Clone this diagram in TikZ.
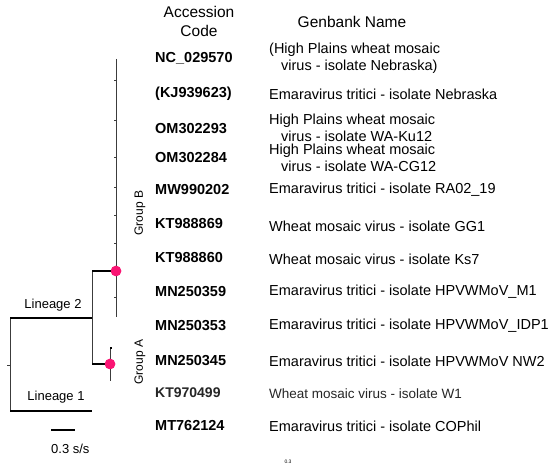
\documentclass[tikz,border=0pt]{standalone}
\usepackage{fontspec}
\setmainfont{Liberation Sans}
\definecolor{dotpink}{RGB}{250,20,115}
\definecolor{branchgray}{RGB}{60,60,60}
\begin{document}
\begin{tikzpicture}[x=1pt,y=-1pt,
  thickbr/.style={line width=2pt,black},
  thinbr/.style={line width=0.8pt,branchgray},
  tickmark/.style={line width=0.6pt,branchgray},
  nodedot/.style={circle,fill=dotpink,inner sep=0pt,minimum size=10.5pt},
  code/.style={anchor=west,inner sep=0pt,font=\fontsize{14.5}{16}\selectfont\bfseries},
  gname/.style={anchor=west,inner sep=0pt,align=left,font=\fontsize{14.5}{16.5}\selectfont},
  header/.style={inner sep=0pt,align=center,font=\fontsize{15.5}{19}\selectfont},
  lablabel/.style={inner sep=0pt,font=\fontsize{13}{15}\selectfont},
  grouplabel/.style={inner sep=0pt,rotate=90,font=\fontsize{12}{14}\selectfont}]
\useasboundingbox (0,0) rectangle (550,476);
% headers
\node[header] (hacc) at (199,21) {Accession\\Code};
\node[header] (hgen) at (352,22) {Genbank Name};
% tree coordinates
\coordinate (root1) at (10,318);
\coordinate (root2) at (10,411);
\coordinate (l2end) at (92,318);
\coordinate (l1end) at (92,411);
\coordinate (n2top) at (92,271);
\coordinate (n2bot) at (92,364);
\coordinate (rtick) at (7,365);
\coordinate (rtickb) at (10,365);
\node[nodedot] (dotB) at (116,271) {};
\node[nodedot] (dotA) at (110,364) {};
\coordinate (gBtop) at (116,59);
\coordinate (gBbot) at (116,317);
\coordinate (gAtop) at (110,348);
\coordinate (gAbot) at (110,381);
% branches
\draw[thinbr] (root1) -- (root2);
\draw[tickmark] (rtick) -- (rtickb);
\draw[thickbr] (root1) -- (l2end);
\draw[thickbr] (root2) -- (l1end);
\draw[thinbr] (n2top) -- (n2bot);
\draw[thickbr] (n2top) -- (dotB.center);
\draw[thickbr] (n2bot) -- (dotA.center);
\draw[thinbr] (gBtop) -- (gBbot);
\draw[thinbr] (gAtop) -- (gAbot);
\draw[line width=1.5pt,black] (gAtop) -- ++(2,0);
\foreach \ty in {80,120,157,187,215,243,297}{
  \draw[tickmark] (114,\ty) -- (116,\ty);
}
\node[nodedot] at (dotB) {};
\node[nodedot] at (dotA) {};
% labels on tree
\node[lablabel] (lin2) at (53,305) {Lineage 2};
\node[lablabel] (lin1) at (56,397) {Lineage 1};
\node[grouplabel] (grB) at (140,213) {Group B};
\node[grouplabel] (grA) at (140,362) {Group A};
% scale bar
\coordinate (sb1) at (51,430);
\coordinate (sb2) at (75,430);
\draw[thickbr] (sb1) -- (sb2);
\node[lablabel,anchor=west] (sblab) at (51,449) {0.3 s/s};
\node[inner sep=0pt,font=\fontsize{5}{6}\selectfont] (tiny) at (288,462) {0.3};
% rows
\node[code] (c1) at (155,58) {NC\_029570};
\node[gname] (g1) at (269,58) {(High Plains wheat mosaic\\\hspace*{12pt}virus - isolate Nebraska)};
\node[code] (c2) at (155,94) {(KJ939623)};
\node[gname] (g2) at (269,94) {Emaravirus tritici - isolate Nebraska};
\node[code] (c3) at (155,129) {OM302293};
\node[gname] (g3) at (269,128) {High Plains wheat mosaic\\\hspace*{12pt}virus - isolate WA-Ku12};
\node[code] (c4) at (155,158) {OM302284};
\node[gname] (g4) at (269,158) {High Plains wheat mosaic\\\hspace*{12pt}virus - isolate WA-CG12};
\node[code] (c5) at (155,190) {MW990202};
\node[gname] (g5) at (269,190) {Emaravirus tritici - isolate RA02\_19};
\node[code] (c6) at (155,224) {KT988869};
\node[gname] (g6) at (269,226) {Wheat mosaic virus - isolate GG1};
\node[code] (c7) at (155,258) {KT988860};
\node[gname] (g7) at (269,259) {Wheat mosaic virus - isolate Ks7};
\node[code] (c8) at (155,292) {MN250359};
\node[gname] (g8) at (269,292) {Emaravirus tritici - isolate HPVWMoV\_M1};
\node[code] (c9) at (155,326) {MN250353};
\node[gname] (g9) at (269,326) {Emaravirus tritici - isolate HPVWMoV\_IDP1};
\node[code] (c10) at (155,361) {MN250345};
\node[gname] (g10) at (269,361) {Emaravirus tritici - isolate HPVWMoV NW2};
\node[code,font=\fontsize{14}{15}\selectfont\bfseries,text=black!85] (c11) at (155,393) {KT970499};
\node[gname,font=\fontsize{13.5}{15}\selectfont,text=black!85] (g11) at (269,394) {Wheat mosaic virus - isolate W1};
\node[code] (c12) at (155,426) {MT762124};
\node[gname] (g12) at (269,426) {Emaravirus tritici - isolate COPhil};
\end{tikzpicture}
\end{document}
